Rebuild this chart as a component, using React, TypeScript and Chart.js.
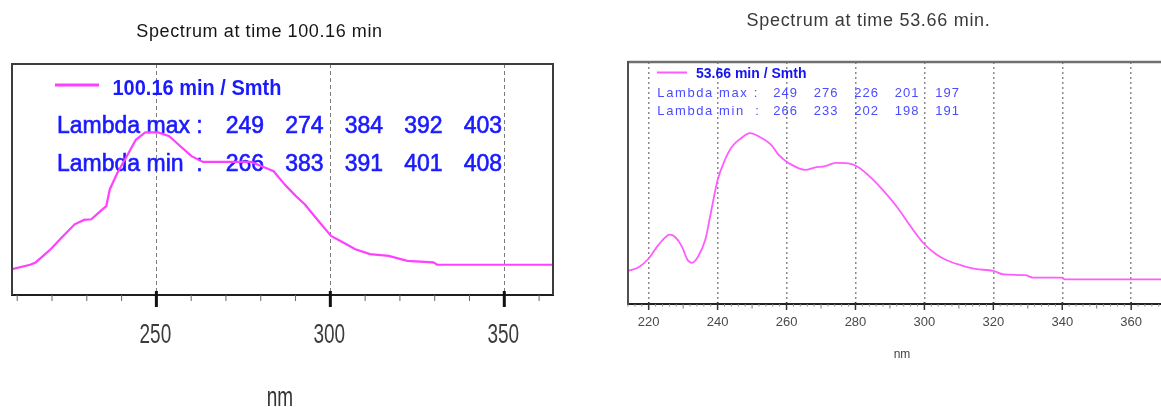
import { useEffect, useRef } from "react";
import { Chart, registerables } from "chart.js";

Chart.register(...registerables);

// ---------- spectrum at 100.16 min ----------
const leftTitle = "Spectrum at time 100.16 min";
const leftSeriesName = "100.16 min / Smth";
const leftWavelengths = [
  208.5, 213.7, 215.3, 219.6, 222.8, 226.5, 229.2, 231.3, 234.0, 235.6, 236.6, 238.8, 241.5,
  244.1, 246.8, 250.5, 253.7, 256.9, 260.1, 263.4, 268.7, 277.2, 281.5, 283.7, 286.9, 290.1,
  292.7, 295.4, 300.2, 302.9, 307.2, 311.4, 316.8, 322.1, 329.6, 330.7, 364.0,
];
const leftAbsorbance = [
  11.2, 13.1, 14.1, 19.8, 24.9, 30.6, 32.5, 32.8, 36.4, 38.5, 45.7, 52.9, 60.1,
  67.2, 70.4, 70.4, 68.7, 64.4, 60.1, 57.6, 57.6, 57.6, 55.0, 53.6, 47.8, 42.8,
  39.2, 34.2, 25.6, 23.4, 19.8, 17.7, 16.9, 14.8, 14.1, 13.1, 13.1,
];
const leftLambdaMax = ["249", "274", "384", "392", "403"];
const leftLambdaMin = ["266", "383", "391", "401", "408"];

// ---------- spectrum at 53.66 min ----------
const rightTitle = "Spectrum at time 53.66 min.";
const rightSeriesName = "53.66 min / Smth";
const rightWavelengths = [
  214.0, 217.2, 220.0, 222.4, 224.5, 226.0, 227.6, 229.7, 231.2, 232.6, 234.3, 236.4, 238.0,
  240.0, 242.1, 244.2, 246.8, 249.4, 252.0, 255.6, 257.7, 260.8, 265.5, 268.1, 271.2, 274.3,
  277.9, 280.5, 284.7, 288.8, 292.0, 296.1, 299.8, 303.4, 306.5, 310.7, 314.8, 320.0, 323.1,
  329.3, 331.4, 339.7, 340.8, 373.0,
];
const rightAbsorbance = [
  13.7, 15.3, 18.8, 23.6, 27.1, 28.7, 27.8, 23.6, 18.4, 17.0, 19.5, 26.4, 37.4,
  51.2, 59.5, 65.1, 68.5, 70.6, 69.2, 65.7, 61.6, 58.1, 55.4, 56.4, 57.0, 58.3,
  58.1, 56.8, 51.9, 45.7, 40.2, 31.9, 25.0, 20.6, 18.1, 16.0, 14.5, 13.7, 12.2,
  11.9, 10.9, 10.9, 10.2, 10.2,
];
const rightLambdaMax = ["249", "276", "226", "201", "197"];
const rightLambdaMin = ["266", "233", "202", "198", "191"];

const lambdaMaxLabel = "Lambda max :";
const lambdaMinLabel = "Lambda min  :";
const axisName = "nm";

const FONT = '"Liberation Sans", Arial, sans-serif';
const H = 407;

type TextOpts = {
  font: string;
  color: string;
  sy?: number;
  spacing?: number;
  align?: CanvasTextAlign;
  stroke?: number;
};

function drawText(ctx: CanvasRenderingContext2D, text: string, x: number, y: number, o: TextOpts) {
  ctx.save();
  ctx.font = o.font;
  ctx.fillStyle = o.color;
  ctx.textAlign = o.align ?? "left";
  ctx.textBaseline = "alphabetic";
  (ctx as any).letterSpacing = `${o.spacing ?? 0}px`;
  ctx.translate(x, y);
  ctx.scale(1, o.sy ?? 1);
  ctx.fillText(text, 0, 0);
  if (o.stroke) {
    ctx.strokeStyle = o.color;
    ctx.lineWidth = o.stroke;
    ctx.strokeText(text, 0, 0);
  }
  ctx.restore();
}

function line(ctx: CanvasRenderingContext2D, x1: number, y1: number, x2: number, y2: number, color: string, w: number) {
  ctx.save();
  ctx.strokeStyle = color;
  ctx.lineWidth = w;
  ctx.beginPath();
  ctx.moveTo(x1, y1);
  ctx.lineTo(x2, y2);
  ctx.stroke();
  ctx.restore();
}

const points = (xs: number[], ys: number[]) => xs.map((x, i) => ({ x, y: ys[i] }));

// legend block, frame, tick marks and titles of the 100.16 min panel
const leftDecor = {
  id: "leftDecor",
  beforeDatasetsDraw(chart: any) {
    const ctx = chart.ctx as CanvasRenderingContext2D;
    line(ctx, 55, 85, 99, 85, "#ff40ff", 3);
    drawText(ctx, leftSeriesName, 112.5, 94.5, { font: `bold 20px ${FONT}`, color: "#1a1aff", sy: 1.12 });
    const rows: [string, string[], number][] = [
      [lambdaMaxLabel, leftLambdaMax, 132.8],
      [lambdaMinLabel, leftLambdaMin, 171],
    ];
    for (const [label, vals, y] of rows) {
      const o = { font: `23px ${FONT}`, color: "#1a1aff", sy: 1.05, stroke: 0.6 };
      drawText(ctx, label, 57, y, o);
      vals.forEach((v, k) => drawText(ctx, v, 264 + k * 59.5, y, { ...o, align: "right" }));
    }
  },
  afterDraw(chart: any) {
    const ctx = chart.ctx as CanvasRenderingContext2D;
    const a = chart.chartArea;
    const x = chart.scales.x;
    ctx.save();
    ctx.strokeStyle = "#3c3c3c";
    ctx.lineWidth = 2;
    ctx.beginPath();
    ctx.moveTo(a.left, a.bottom);
    ctx.lineTo(a.left, a.top);
    ctx.lineTo(a.right, a.top);
    ctx.lineTo(a.right, a.bottom);
    ctx.stroke();
    ctx.restore();
    for (const t of x.ticks) {
      const px = x.getPixelForValue(t.value);
      if (t.value % 50 === 0) {
        line(ctx, px, a.bottom - 4, px, a.bottom + 12, "#111", 3);
        drawText(ctx, String(t.value), px - 1, 342.7, { font: `19px ${FONT}`, color: "#3c3c3c", sy: 1.45, align: "center" });
      } else {
        line(ctx, px, a.bottom, px, a.bottom + 6, "#666", 1);
      }
    }
    drawText(ctx, axisName, (a.left + a.right) / 2 - 2.5, 406, { font: `19px ${FONT}`, color: "#333", sy: 1.45, align: "center" });
    drawText(ctx, leftTitle, 259.5, 37.3, { font: `18px ${FONT}`, color: "#151515", spacing: 0.6, align: "center" });
  },
};

// legend block, frame, tick marks and title of the 53.66 min panel
const rightDecor = {
  id: "rightDecor",
  beforeDatasetsDraw(chart: any) {
    const ctx = chart.ctx as CanvasRenderingContext2D;
    line(ctx, 57, 72.5, 87, 72.5, "#ff5cff", 2);
    drawText(ctx, rightSeriesName, 96, 77.7, { font: `bold 14px ${FONT}`, color: "#1414f0" });
    const rows: [string, string[], number][] = [
      [lambdaMaxLabel, rightLambdaMax, 96.7],
      [lambdaMinLabel, rightLambdaMin, 115],
    ];
    for (const [label, vals, y] of rows) {
      drawText(ctx, label, 57.3, y, { font: `13px ${FONT}`, color: "#4c4cff", spacing: 1.6 });
      vals.forEach((v, k) =>
        drawText(ctx, v, 198 + k * 40.5, y, { font: `13px ${FONT}`, color: "#4c4cff", spacing: 1, align: "right" })
      );
    }
  },
  afterDraw(chart: any) {
    const ctx = chart.ctx as CanvasRenderingContext2D;
    const a = chart.chartArea;
    const x = chart.scales.x;
    line(ctx, a.left, a.top, a.right, a.top, "#707070", 2.5);
    line(ctx, a.left, a.top - 1, a.left, a.bottom, "#505050", 2);
    line(ctx, a.right, a.top - 1, a.right, a.bottom, "#505050", 2);
    for (const t of x.ticks) {
      const px = x.getPixelForValue(t.value);
      if (t.value % 20 === 0) line(ctx, px, a.bottom - 2, px, a.bottom + 6, "#333", 1.5);
      else if (t.value % 10 === 0) line(ctx, px, a.bottom, px, a.bottom + 4.5, "#777", 1);
      else line(ctx, px, a.bottom, px, a.bottom + 2.5, "#888", 1);
    }
    drawText(ctx, rightTitle, 268.5, 26, { font: `18px ${FONT}`, color: "#3a3a3a", spacing: 0.7, align: "center" });
  },
};

function leftConfig(): any {
  return {
    type: "line",
    data: {
      datasets: [
        {
          data: points(leftWavelengths, leftAbsorbance),
          borderColor: "#ff40ff",
          borderWidth: 2.2,
          pointRadius: 0,
          tension: 0,
          fill: false,
        },
      ],
    },
    options: {
      animation: false,
      responsive: false,
      devicePixelRatio: 1,
      layout: { padding: { left: 12, right: 27, top: 64, bottom: 0 } },
      plugins: { legend: { display: false }, tooltip: { enabled: false }, title: { display: false } },
      scales: {
        x: {
          type: "linear",
          min: 208.5,
          max: 364,
          ticks: { stepSize: 10, includeBounds: false, autoSkip: false, display: false, maxRotation: 0, minRotation: 0 },
          grid: {
            drawTicks: false,
            lineWidth: 1,
            color: (c: any) => (c.tick && c.tick.value % 50 === 0 ? "#7c7c7c" : "rgba(0,0,0,0)"),
          },
          border: { display: true, color: "#1e1e1e", width: 2, dash: [4, 3] },
          afterFit: (s: any) => {
            s.height = H - 295;
          },
        },
        y: { display: false, min: 0, max: 100 },
      },
    },
    plugins: [leftDecor],
  };
}

function rightConfig(): any {
  return {
    type: "line",
    data: {
      datasets: [
        {
          data: points(rightWavelengths, rightAbsorbance),
          borderColor: "#ff5cff",
          borderWidth: 1.8,
          pointRadius: 0,
          tension: 0.4,
          cubicInterpolationMode: "monotone",
          fill: false,
        },
      ],
    },
    options: {
      animation: false,
      responsive: false,
      devicePixelRatio: 1,
      layout: { padding: { left: 28, right: 24, top: 62, bottom: 0 } },
      plugins: { legend: { display: false }, tooltip: { enabled: false }, title: { display: false } },
      scales: {
        x: {
          type: "linear",
          min: 214,
          max: 373,
          ticks: {
            stepSize: 2,
            includeBounds: false,
            autoSkip: false,
            maxRotation: 0,
            minRotation: 0,
            padding: 10.5,
            color: "#4a4a4a",
            font: { family: FONT, size: 13 },
            callback: (v: any) => (Number(v) % 20 === 0 ? String(v) : ""),
          },
          grid: {
            drawTicks: false,
            lineWidth: 1.5,
            color: (c: any) => (c.tick && c.tick.value % 20 === 0 ? "#8a8a8a" : "rgba(0,0,0,0)"),
          },
          border: { display: true, color: "#222", width: 2, dash: [2, 3] },
          title: {
            display: true,
            text: axisName,
            color: "#444",
            font: { family: FONT, size: 12 },
            padding: { top: 0, bottom: 44.8 },
          },
          afterFit: (s: any) => {
            s.height = H - 304;
          },
        },
        y: { display: false, min: 0, max: 100 },
      },
    },
    plugins: [rightDecor],
  };
}

function SpectrumPanel({ left, width, config }: { left: number; width: number; config: () => any }) {
  const ref = useRef<HTMLCanvasElement>(null);
  useEffect(() => {
    const chart = new Chart(ref.current as HTMLCanvasElement, config());
    return () => chart.destroy();
  }, [config]);
  return (
    <canvas
      ref={ref}
      width={width}
      height={H}
      style={{ position: "absolute", left, top: 0, width, height: H }}
    />
  );
}

export default function App() {
  return (
    <div
      style={{
        position: "absolute",
        left: 0,
        top: 0,
        width: 1161,
        height: H,
        overflow: "hidden",
        background: "#ffffff",
      }}
    >
      <SpectrumPanel left={0} width={580} config={leftConfig} />
      <SpectrumPanel left={600} width={600} config={rightConfig} />
    </div>
  );
}
